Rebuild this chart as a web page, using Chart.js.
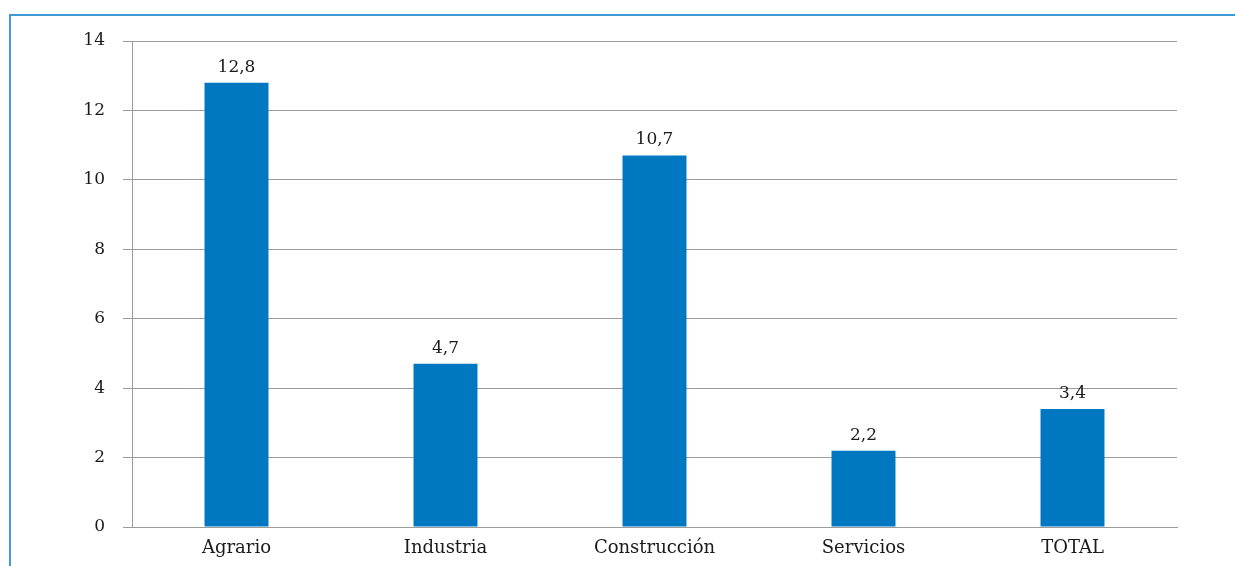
<!DOCTYPE html>
<html>
<head>
<meta charset="utf-8">
<script src="https://cdn.jsdelivr.net/npm/chart.js@4/dist/chart.umd.min.js"></script>
<style>
  html, body { margin: 0; padding: 0; background: #fff; }
  #wrap { position: relative; width: 1235px; height: 566px; overflow: hidden; }
  #frame { position: absolute; left: 9px; top: 14px; width: 1240px; height: 600px;
           border-top: 2px solid #3f9ad6; border-left: 2px solid #3f9ad6; box-sizing: border-box; }
  canvas { position: absolute; left: 0; top: 0; }
</style>
</head>
<body>
<div id="wrap">
  <div id="frame"></div>
  <canvas id="c" width="1235" height="566"></canvas>
</div>
<script>
const categories = ['Agrario', 'Industria', 'Construcción', 'Servicios', 'TOTAL'];
const values = [12.8, 4.7, 10.7, 2.2, 3.4];
const yTicks = [0, 2, 4, 6, 8, 10, 12, 14];

const FONT = '"DejaVu Serif", serif';

const valueLabels = {
  id: 'valueLabels',
  afterDatasetsDraw(chart) {
    const ctx = chart.ctx;
    const meta = chart.getDatasetMeta(0);
    ctx.save();
    ctx.font = '17px ' + FONT;
    ctx.fillStyle = '#1a1a1a';
    ctx.textAlign = 'center';
    ctx.textBaseline = 'bottom';
    meta.data.forEach((bar, i) => {
      const txt = String(values[i]).replace('.', ',');
      ctx.fillText(txt, bar.x, bar.y - 7);
    });
    ctx.restore();
  }
};

new Chart(document.getElementById('c'), {
  type: 'bar',
  data: {
    labels: categories,
    datasets: [{
      data: values,
      backgroundColor: '#0077C1',
      borderWidth: 0,
      barPercentage: 1,
      categoryPercentage: 0.306
    }]
  },
  options: {
    responsive: false,
    animation: false,
    devicePixelRatio: 1,
    layout: { padding: { left: 0, top: 41, right: 58, bottom: 0 } },
    plugins: { legend: { display: false }, tooltip: { enabled: false } },
    scales: {
      x: {
        grid: { display: false, drawTicks: false },
        border: { display: true, color: '#9c9c9c', width: 1 },
        ticks: { color: '#1a1a1a', font: { family: FONT, size: 18 }, padding: 11, maxRotation: 0 },
        afterFit(scale) { scale.height = 39; }
      },
      y: {
        min: 0, max: 14,
        afterBuildTicks(scale) { scale.ticks = yTicks.map(v => ({ value: v })); },
        grid: { color: '#9c9c9c', lineWidth: 1, tickLength: 9, drawTicks: true },
        border: { display: true, color: '#9c9c9c', width: 1 },
        ticks: { color: '#1a1a1a', font: { family: FONT, size: 17 }, padding: 18 },
        afterFit(scale) { scale.width = 132; }
      }
    }
  },
  plugins: [valueLabels]
});
</script>
</body>
</html>
